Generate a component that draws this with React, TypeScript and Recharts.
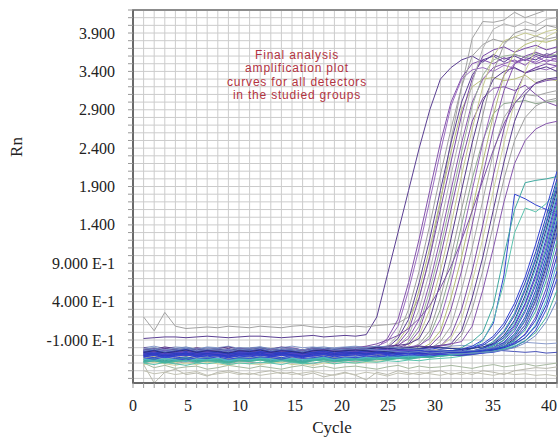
import * as React from 'react';
import {CartesianGrid, Line, LineChart, ReferenceArea, XAxis, YAxis} from 'recharts';

const cycles = [
	1, 2, 3, 4, 5, 6, 7, 8, 9, 10, 11, 12, 13, 14, 15, 16, 17, 18, 19, 20,
	21, 22, 23, 24, 25, 26, 27, 28, 29, 30, 31, 32, 33, 34, 35, 36, 37, 38, 39, 40,
];
const xLabelTicks = [0, 5, 10, 15, 20, 25, 30, 35, 40];
const yLabelTicks = [-0.1, 0.4, 0.9, 1.4, 1.9, 2.4, 2.9, 3.4, 3.9];
const noteLines = ['Final analysis', 'amplification plot', 'curves for all detectors', 'in the studied groups'];

// early risers (plateau 2.7 - 4.2)
const early01 = [-0.08, -0.07, -0.06, -0.06, -0.07, -0.06, -0.05, -0.06, -0.07, -0.06, -0.05, -0.05, -0.06, -0.07, -0.06, -0.05, -0.04, -0.06, -0.05, -0.04, -0.05, -0.03, 0.2, 0.75, 1.3, 1.85, 2.4, 2.9, 3.3, 3.45, 3.55, 3.6, 3.52, 3.62, 3.56, 3.6, 3.54, 3.62, 3.58, 3.6];
const early02 = [0.2, 0.02, 0.26, 0.08, 0.05, 0.06, 0.07, 0.06, 0.08, 0.07, 0.06, 0.08, 0.07, 0.06, 0.08, 0.09, 0.07, 0.06, 0.08, 0.07, 0.08, 0.07, 0.09, 0.1, 0.12, 0.2, 0.45, 1.0, 1.7, 2.5, 3.2, 3.83, 4.05, 4.04, 4.07, 4.17, 4.1, 4.15, 4.2, 4.2];
const early03 = [-0.26, -0.3, -0.27, -0.25, -0.28, -0.29, -0.26, -0.27, -0.3, -0.28, -0.27, -0.25, -0.28, -0.26, -0.27, -0.29, -0.26, -0.25, -0.27, -0.26, -0.25, -0.24, -0.2, -0.08, 0.17, 0.65, 1.22, 1.85, 2.47, 3.0, 3.32, 3.5, 3.55, 3.5, 3.58, 3.52, 3.56, 3.5, 3.55, 3.53];
const early04 = [-0.22, -0.25, -0.2, -0.24, -0.23, -0.21, -0.25, -0.22, -0.24, -0.2, -0.23, -0.21, -0.24, -0.22, -0.2, -0.23, -0.21, -0.24, -0.22, -0.2, -0.21, -0.2, -0.18, -0.12, 0.08, 0.55, 1.1, 1.72, 2.35, 2.95, 3.3, 3.42, 3.45, 3.4, 3.48, 3.44, 3.38, 3.45, 3.42, 3.47];
const early05 = [-0.32, -0.28, -0.3, -0.33, -0.29, -0.31, -0.3, -0.28, -0.32, -0.3, -0.29, -0.31, -0.3, -0.28, -0.3, -0.32, -0.29, -0.3, -0.28, -0.29, -0.28, -0.27, -0.25, -0.18, -0.04, 0.3, 0.8, 1.4, 2.05, 2.65, 3.2, 3.6, 3.75, 3.82, 3.78, 3.85, 3.8, 3.86, 3.82, 3.85];
const early06 = [-0.25, -0.27, -0.24, -0.26, -0.28, -0.25, -0.24, -0.27, -0.25, -0.26, -0.24, -0.26, -0.25, -0.27, -0.24, -0.25, -0.26, -0.23, -0.25, -0.24, -0.23, -0.25, -0.22, -0.2, -0.08, 0.17, 0.65, 1.22, 1.85, 2.47, 3.0, 3.35, 3.55, 3.6, 3.52, 3.62, 3.58, 3.55, 3.63, 3.6];
const early07 = [-0.35, -0.33, -0.36, -0.34, -0.32, -0.35, -0.33, -0.36, -0.34, -0.33, -0.35, -0.32, -0.34, -0.36, -0.33, -0.35, -0.34, -0.32, -0.33, -0.35, -0.33, -0.32, -0.3, -0.27, -0.12, 0.08, 0.55, 1.1, 1.72, 2.35, 2.9, 3.2, 3.3, 3.32, 3.28, 3.3, 3.35, 3.25, 3.3, 3.28];
const early08 = [-0.28, -0.26, -0.29, -0.27, -0.3, -0.28, -0.27, -0.29, -0.26, -0.28, -0.27, -0.29, -0.28, -0.26, -0.27, -0.28, -0.3, -0.27, -0.28, -0.26, -0.27, -0.25, -0.24, -0.21, -0.15, 0.02, 0.45, 0.98, 1.6, 2.22, 2.83, 3.3, 3.6, 3.68, 3.72, 3.65, 3.7, 3.74, 3.68, 3.72];
const early09 = [-0.3, -0.34, -0.31, -0.29, -0.33, -0.3, -0.32, -0.31, -0.29, -0.32, -0.3, -0.33, -0.31, -0.3, -0.32, -0.29, -0.31, -0.33, -0.3, -0.31, -0.3, -0.29, -0.28, -0.26, -0.18, -0.04, 0.3, 0.8, 1.4, 2.05, 2.65, 3.25, 3.7, 3.95, 4.02, 3.98, 4.05, 4.0, 4.08, 4.1];
const early10 = [-0.24, -0.21, -0.23, -0.25, -0.22, -0.24, -0.23, -0.21, -0.24, -0.22, -0.23, -0.25, -0.22, -0.24, -0.21, -0.23, -0.22, -0.24, -0.23, -0.21, -0.22, -0.21, -0.2, -0.19, -0.17, -0.08, 0.17, 0.65, 1.22, 1.85, 2.47, 3.0, 3.3, 3.45, 3.5, 3.55, 3.48, 3.6, 3.52, 3.58];
const early11 = [-0.33, -0.36, -0.34, -0.37, -0.35, -0.33, -0.36, -0.34, -0.35, -0.37, -0.34, -0.36, -0.35, -0.33, -0.36, -0.34, -0.37, -0.35, -0.34, -0.36, -0.35, -0.34, -0.33, -0.32, -0.3, -0.12, 0.08, 0.55, 1.1, 1.72, 2.35, 2.95, 3.35, 3.55, 3.6, 3.62, 3.58, 3.64, 3.6, 3.62];
const early12 = [-0.27, -0.25, -0.28, -0.26, -0.24, -0.27, -0.25, -0.26, -0.28, -0.25, -0.26, -0.24, -0.27, -0.25, -0.26, -0.24, -0.25, -0.27, -0.24, -0.26, -0.25, -0.24, -0.23, -0.22, -0.2, -0.15, 0.02, 0.45, 0.98, 1.6, 2.22, 2.75, 3.05, 3.18, 3.2, 3.15, 3.22, 3.1, 3.0, 2.95];
const early13 = [-0.38, -0.35, -0.37, -0.4, -0.36, -0.38, -0.35, -0.37, -0.39, -0.36, -0.37, -0.35, -0.38, -0.36, -0.39, -0.37, -0.35, -0.38, -0.36, -0.37, -0.36, -0.35, -0.34, -0.33, -0.3, -0.18, -0.04, 0.3, 0.8, 1.4, 2.05, 2.65, 3.2, 3.6, 3.8, 3.85, 3.9, 3.86, 3.92, 3.95];
const early14 = [-0.2, -0.22, -0.19, -0.21, -0.23, -0.2, -0.22, -0.21, -0.19, -0.22, -0.21, -0.2, -0.22, -0.19, -0.21, -0.23, -0.2, -0.21, -0.22, -0.2, -0.21, -0.19, -0.2, -0.18, -0.17, -0.15, -0.08, 0.17, 0.65, 1.22, 1.85, 2.47, 3.0, 3.3, 3.4, 3.45, 3.38, 3.42, 3.46, 3.4];
const early15 = [-0.31, -0.29, -0.32, -0.3, -0.28, -0.31, -0.3, -0.29, -0.32, -0.3, -0.29, -0.31, -0.3, -0.28, -0.31, -0.3, -0.29, -0.31, -0.3, -0.28, -0.3, -0.29, -0.28, -0.27, -0.25, -0.22, -0.15, 0.02, 0.45, 0.98, 1.6, 2.22, 2.83, 3.4, 3.75, 3.9, 3.95, 3.92, 4.0, 3.97];
const early16 = [-0.36, -0.38, -0.35, -0.37, -0.39, -0.36, -0.38, -0.37, -0.35, -0.38, -0.37, -0.36, -0.38, -0.35, -0.37, -0.39, -0.36, -0.38, -0.37, -0.36, -0.35, -0.36, -0.34, -0.33, -0.32, -0.3, -0.18, -0.04, 0.3, 0.8, 1.4, 2.0, 2.5, 2.85, 2.98, 3.0, 3.02, 2.98, 3.0, 3.02];
const early17 = [-0.23, -0.26, -0.24, -0.22, -0.25, -0.23, -0.26, -0.24, -0.22, -0.25, -0.24, -0.22, -0.25, -0.23, -0.24, -0.26, -0.23, -0.22, -0.24, -0.23, -0.22, -0.24, -0.21, -0.22, -0.2, -0.19, -0.17, -0.08, 0.17, 0.65, 1.22, 1.85, 2.47, 3.0, 3.35, 3.5, 3.56, 3.52, 3.6, 3.55];
const early18 = [-0.34, -0.31, -0.33, -0.35, -0.32, -0.34, -0.33, -0.31, -0.35, -0.33, -0.32, -0.34, -0.33, -0.35, -0.32, -0.33, -0.34, -0.31, -0.33, -0.32, -0.33, -0.32, -0.31, -0.3, -0.29, -0.27, -0.22, -0.15, 0.02, 0.45, 0.98, 1.6, 2.22, 2.83, 3.35, 3.65, 3.75, 3.8, 3.78, 3.82];
const early19 = [-0.29, -0.27, -0.3, -0.28, -0.26, -0.29, -0.28, -0.3, -0.27, -0.29, -0.28, -0.26, -0.29, -0.27, -0.28, -0.3, -0.27, -0.28, -0.26, -0.28, -0.27, -0.28, -0.26, -0.27, -0.25, -0.24, -0.22, -0.18, -0.04, 0.3, 0.8, 1.4, 2.05, 2.65, 3.15, 3.5, 3.6, 3.65, 3.6, 3.66];
const early20 = [-0.4, -0.37, -0.39, -0.41, -0.38, -0.4, -0.37, -0.39, -0.41, -0.38, -0.39, -0.4, -0.38, -0.37, -0.4, -0.39, -0.41, -0.38, -0.39, -0.37, -0.38, -0.37, -0.36, -0.35, -0.33, -0.31, -0.28, -0.22, -0.12, 0.08, 0.55, 1.1, 1.72, 2.35, 2.8, 3.0, 3.1, 3.08, 3.12, 3.15];
const early21 = [-0.26, -0.28, -0.25, -0.27, -0.29, -0.26, -0.28, -0.27, -0.25, -0.28, -0.27, -0.25, -0.28, -0.26, -0.27, -0.29, -0.26, -0.25, -0.27, -0.26, -0.25, -0.26, -0.24, -0.25, -0.23, -0.22, -0.21, -0.2, -0.18, -0.04, 0.3, 0.8, 1.4, 2.05, 2.65, 3.1, 3.38, 3.45, 3.5, 3.47];
const early22 = [-0.42, -0.39, -0.41, -0.43, -0.4, -0.42, -0.39, -0.41, -0.43, -0.4, -0.41, -0.42, -0.4, -0.39, -0.42, -0.41, -0.43, -0.4, -0.41, -0.39, -0.4, -0.39, -0.38, -0.36, -0.34, -0.32, -0.3, -0.25, -0.18, -0.08, 0.17, 0.65, 1.22, 1.85, 2.47, 3.0, 3.4, 3.7, 3.85, 3.92];
const early23 = [-0.22, -0.24, -0.21, -0.23, -0.25, -0.22, -0.24, -0.23, -0.21, -0.24, -0.23, -0.21, -0.24, -0.22, -0.23, -0.25, -0.22, -0.21, -0.23, -0.22, -0.21, -0.22, -0.2, -0.21, -0.19, -0.2, -0.18, -0.19, -0.17, -0.15, 0.02, 0.45, 0.98, 1.6, 2.22, 2.75, 3.1, 3.25, 3.3, 3.32];
const early24 = [-0.35, -0.32, -0.34, -0.36, -0.33, -0.35, -0.32, -0.34, -0.36, -0.33, -0.34, -0.35, -0.33, -0.32, -0.35, -0.34, -0.36, -0.33, -0.34, -0.32, -0.33, -0.32, -0.31, -0.3, -0.29, -0.28, -0.26, -0.24, -0.22, -0.18, -0.04, 0.3, 0.8, 1.4, 2.0, 2.5, 2.8, 2.95, 3.02, 3.05];
const early25 = [-0.3, -0.27, -0.29, -0.31, -0.28, -0.3, -0.27, -0.29, -0.31, -0.28, -0.29, -0.3, -0.28, -0.27, -0.3, -0.29, -0.31, -0.28, -0.29, -0.27, -0.28, -0.27, -0.26, -0.25, -0.24, -0.23, -0.22, -0.2, -0.18, -0.15, -0.12, 0.08, 0.55, 1.1, 1.7, 2.2, 2.5, 2.65, 2.72, 2.75];
const early26 = [-0.26, -0.24, -0.27, -0.25, -0.23, -0.26, -0.24, -0.25, -0.27, -0.24, -0.25, -0.23, -0.26, -0.24, -0.25, -0.23, -0.24, -0.22, -0.23, -0.21, -0.2, -0.18, -0.15, -0.1, -0.04, 0.05, 0.18, 0.35, 0.58, 0.86, 1.2, 1.58, 1.98, 2.38, 2.72, 2.98, 3.15, 3.24, 3.28, 3.3];

// late risers (reach 0.4 - 2.1 by cycle 40)
const late01 = [-0.28, -0.26, -0.29, -0.27, -0.25, -0.28, -0.27, -0.29, -0.26, -0.28, -0.27, -0.25, -0.28, -0.26, -0.27, -0.29, -0.26, -0.27, -0.25, -0.26, -0.27, -0.25, -0.26, -0.24, -0.25, -0.26, -0.24, -0.25, -0.23, -0.24, -0.22, -0.18, -0.1, 0.12, 0.75, 1.8, 1.74, 1.66, 1.6, 1.53];
const late02 = [-0.37, -0.35, -0.38, -0.36, -0.34, -0.37, -0.35, -0.36, -0.38, -0.35, -0.36, -0.34, -0.37, -0.35, -0.36, -0.38, -0.35, -0.34, -0.36, -0.35, -0.34, -0.35, -0.33, -0.34, -0.32, -0.33, -0.31, -0.3, -0.28, -0.25, -0.2, -0.12, 0.0, 0.35, 1.0, 1.6, 1.95, 1.98, 2.0, 2.03];
const late03 = [-0.39, -0.37, -0.4, -0.38, -0.36, -0.39, -0.37, -0.38, -0.4, -0.37, -0.38, -0.36, -0.39, -0.37, -0.38, -0.4, -0.37, -0.36, -0.38, -0.37, -0.36, -0.37, -0.35, -0.36, -0.34, -0.35, -0.33, -0.32, -0.31, -0.29, -0.26, -0.21, -0.11, 0.15, 0.65, 1.3, 1.62, 1.57, 1.68, 1.85];
const late04 = [-0.25, -0.23, -0.26, -0.24, -0.22, -0.25, -0.24, -0.26, -0.23, -0.25, -0.24, -0.22, -0.25, -0.23, -0.24, -0.26, -0.23, -0.24, -0.22, -0.23, -0.24, -0.22, -0.23, -0.21, -0.22, -0.23, -0.21, -0.22, -0.2, -0.21, -0.22, -0.2, -0.15, -0.05, 0.12, 0.38, 0.72, 1.15, 1.62, 2.1];
const late05 = [-0.28, -0.26, -0.27, -0.29, -0.26, -0.28, -0.27, -0.25, -0.28, -0.26, -0.27, -0.29, -0.26, -0.27, -0.25, -0.28, -0.26, -0.27, -0.25, -0.26, -0.27, -0.24, -0.26, -0.25, -0.24, -0.26, -0.24, -0.25, -0.23, -0.24, -0.24, -0.21, -0.17, -0.08, 0.08, 0.32, 0.65, 1.05, 1.52, 2.0];
const late06 = [-0.38, -0.36, -0.39, -0.37, -0.35, -0.38, -0.36, -0.37, -0.39, -0.36, -0.37, -0.35, -0.38, -0.36, -0.37, -0.39, -0.36, -0.35, -0.37, -0.36, -0.35, -0.36, -0.34, -0.35, -0.33, -0.34, -0.32, -0.33, -0.31, -0.3, -0.28, -0.25, -0.2, -0.12, 0.02, 0.25, 0.58, 0.98, 1.45, 1.95];
const late07 = [-0.26, -0.28, -0.25, -0.27, -0.29, -0.26, -0.27, -0.25, -0.28, -0.26, -0.27, -0.25, -0.26, -0.28, -0.25, -0.27, -0.26, -0.24, -0.27, -0.25, -0.26, -0.24, -0.25, -0.27, -0.24, -0.25, -0.23, -0.26, -0.24, -0.25, -0.27, -0.25, -0.21, -0.14, 0.0, 0.22, 0.55, 0.95, 1.42, 1.9];
const late08 = [-0.24, -0.22, -0.25, -0.23, -0.21, -0.24, -0.22, -0.23, -0.25, -0.22, -0.23, -0.21, -0.24, -0.22, -0.23, -0.25, -0.22, -0.21, -0.23, -0.22, -0.21, -0.22, -0.2, -0.21, -0.22, -0.2, -0.21, -0.19, -0.2, -0.21, -0.22, -0.21, -0.19, -0.15, -0.04, 0.16, 0.48, 0.88, 1.35, 1.85];
const late09 = [-0.35, -0.33, -0.36, -0.34, -0.32, -0.35, -0.33, -0.34, -0.36, -0.33, -0.34, -0.32, -0.35, -0.33, -0.34, -0.36, -0.33, -0.32, -0.34, -0.33, -0.32, -0.33, -0.31, -0.32, -0.3, -0.31, -0.3, -0.29, -0.3, -0.28, -0.28, -0.26, -0.23, -0.17, -0.06, 0.14, 0.44, 0.84, 1.3, 1.8];
const late10 = [-0.29, -0.27, -0.3, -0.28, -0.26, -0.29, -0.27, -0.28, -0.3, -0.27, -0.28, -0.26, -0.29, -0.27, -0.28, -0.3, -0.27, -0.26, -0.28, -0.27, -0.26, -0.27, -0.25, -0.26, -0.24, -0.25, -0.26, -0.24, -0.25, -0.24, -0.25, -0.24, -0.21, -0.16, -0.07, 0.1, 0.38, 0.76, 1.23, 1.75];
const late11 = [-0.24, -0.26, -0.23, -0.25, -0.27, -0.24, -0.26, -0.25, -0.23, -0.26, -0.25, -0.23, -0.26, -0.24, -0.25, -0.27, -0.24, -0.23, -0.25, -0.24, -0.23, -0.25, -0.24, -0.22, -0.24, -0.23, -0.25, -0.26, -0.27, -0.28, -0.3, -0.28, -0.25, -0.2, -0.1, 0.08, 0.36, 0.72, 1.18, 1.7];
const late12 = [-0.36, -0.34, -0.37, -0.35, -0.33, -0.36, -0.34, -0.35, -0.37, -0.34, -0.35, -0.33, -0.36, -0.34, -0.35, -0.37, -0.34, -0.33, -0.35, -0.34, -0.33, -0.34, -0.32, -0.33, -0.31, -0.32, -0.3, -0.31, -0.29, -0.28, -0.27, -0.26, -0.23, -0.18, -0.1, 0.05, 0.3, 0.66, 1.12, 1.65];
const late13 = [-0.3, -0.28, -0.31, -0.29, -0.27, -0.3, -0.28, -0.29, -0.31, -0.28, -0.29, -0.27, -0.3, -0.28, -0.29, -0.31, -0.28, -0.27, -0.29, -0.28, -0.27, -0.28, -0.26, -0.27, -0.28, -0.26, -0.27, -0.28, -0.26, -0.27, -0.29, -0.27, -0.25, -0.21, -0.13, 0.02, 0.27, 0.62, 1.07, 1.6];
const late14 = [-0.27, -0.29, -0.26, -0.28, -0.3, -0.27, -0.28, -0.26, -0.29, -0.27, -0.28, -0.26, -0.27, -0.29, -0.26, -0.28, -0.27, -0.25, -0.28, -0.26, -0.27, -0.25, -0.26, -0.28, -0.25, -0.26, -0.24, -0.27, -0.25, -0.26, -0.26, -0.25, -0.23, -0.2, -0.14, -0.02, 0.2, 0.55, 1.0, 1.55];
const late15 = [-0.4, -0.42, -0.39, -0.41, -0.43, -0.4, -0.41, -0.39, -0.42, -0.4, -0.41, -0.39, -0.4, -0.42, -0.39, -0.41, -0.4, -0.38, -0.41, -0.39, -0.4, -0.38, -0.39, -0.37, -0.38, -0.36, -0.37, -0.35, -0.34, -0.33, -0.31, -0.29, -0.27, -0.23, -0.15, -0.03, 0.17, 0.5, 0.95, 1.5];
const late16 = [-0.31, -0.29, -0.32, -0.3, -0.28, -0.31, -0.29, -0.3, -0.32, -0.29, -0.3, -0.28, -0.31, -0.29, -0.3, -0.32, -0.29, -0.28, -0.3, -0.29, -0.28, -0.29, -0.27, -0.28, -0.29, -0.27, -0.28, -0.29, -0.27, -0.28, -0.28, -0.27, -0.25, -0.22, -0.16, -0.05, 0.15, 0.47, 0.92, 1.45];
const late17 = [-0.26, -0.24, -0.27, -0.25, -0.23, -0.26, -0.24, -0.25, -0.27, -0.24, -0.25, -0.23, -0.26, -0.24, -0.25, -0.27, -0.24, -0.23, -0.25, -0.24, -0.23, -0.24, -0.26, -0.25, -0.27, -0.26, -0.28, -0.27, -0.29, -0.3, -0.3, -0.28, -0.26, -0.23, -0.18, -0.08, 0.1, 0.42, 0.86, 1.4];
const late18 = [-0.22, -0.2, -0.23, -0.21, -0.19, -0.22, -0.2, -0.21, -0.23, -0.2, -0.21, -0.19, -0.22, -0.2, -0.21, -0.23, -0.2, -0.19, -0.21, -0.2, -0.19, -0.2, -0.18, -0.19, -0.2, -0.21, -0.22, -0.23, -0.24, -0.25, -0.25, -0.24, -0.22, -0.2, -0.15, -0.07, 0.1, 0.4, 0.82, 1.35];
const late19 = [-0.31, -0.33, -0.3, -0.32, -0.34, -0.31, -0.32, -0.3, -0.33, -0.31, -0.32, -0.3, -0.31, -0.33, -0.3, -0.32, -0.31, -0.29, -0.32, -0.3, -0.31, -0.29, -0.3, -0.32, -0.29, -0.3, -0.28, -0.31, -0.29, -0.3, -0.29, -0.28, -0.26, -0.24, -0.19, -0.1, 0.06, 0.34, 0.76, 1.3];
const late20 = [-0.38, -0.36, -0.39, -0.37, -0.35, -0.38, -0.36, -0.37, -0.39, -0.36, -0.37, -0.35, -0.38, -0.36, -0.37, -0.39, -0.36, -0.35, -0.37, -0.36, -0.35, -0.36, -0.34, -0.35, -0.33, -0.34, -0.32, -0.31, -0.3, -0.29, -0.28, -0.27, -0.25, -0.22, -0.18, -0.11, 0.03, 0.28, 0.68, 1.2];
const late21 = [-0.28, -0.3, -0.27, -0.29, -0.31, -0.28, -0.29, -0.27, -0.3, -0.28, -0.29, -0.27, -0.28, -0.3, -0.27, -0.29, -0.28, -0.26, -0.29, -0.27, -0.28, -0.26, -0.27, -0.29, -0.26, -0.27, -0.28, -0.29, -0.28, -0.3, -0.3, -0.29, -0.27, -0.25, -0.21, -0.14, -0.02, 0.2, 0.58, 1.1];
const late22 = [-0.32, -0.3, -0.33, -0.31, -0.29, -0.32, -0.3, -0.31, -0.33, -0.3, -0.31, -0.29, -0.32, -0.3, -0.31, -0.33, -0.3, -0.29, -0.31, -0.3, -0.29, -0.3, -0.28, -0.29, -0.27, -0.28, -0.27, -0.26, -0.27, -0.26, -0.26, -0.25, -0.24, -0.22, -0.19, -0.13, -0.03, 0.16, 0.5, 1.0];
const late23 = [-0.35, -0.37, -0.34, -0.36, -0.38, -0.35, -0.36, -0.34, -0.37, -0.35, -0.36, -0.34, -0.35, -0.37, -0.34, -0.36, -0.35, -0.33, -0.36, -0.34, -0.35, -0.33, -0.34, -0.32, -0.33, -0.31, -0.32, -0.3, -0.31, -0.29, -0.28, -0.27, -0.26, -0.24, -0.21, -0.16, -0.07, 0.1, 0.42, 0.9];
const late24 = [-0.3, -0.28, -0.31, -0.29, -0.27, -0.3, -0.28, -0.29, -0.31, -0.28, -0.29, -0.27, -0.3, -0.28, -0.29, -0.31, -0.28, -0.27, -0.29, -0.28, -0.27, -0.28, -0.26, -0.27, -0.28, -0.26, -0.27, -0.28, -0.26, -0.27, -0.27, -0.26, -0.25, -0.23, -0.2, -0.15, -0.07, 0.08, 0.36, 0.8];
const late25 = [-0.33, -0.35, -0.32, -0.34, -0.36, -0.33, -0.34, -0.32, -0.35, -0.33, -0.34, -0.32, -0.33, -0.35, -0.32, -0.34, -0.33, -0.31, -0.34, -0.32, -0.33, -0.31, -0.32, -0.3, -0.31, -0.29, -0.3, -0.31, -0.29, -0.3, -0.29, -0.28, -0.27, -0.26, -0.23, -0.19, -0.11, 0.03, 0.3, 0.7];
const late26 = [-0.39, -0.37, -0.4, -0.38, -0.36, -0.39, -0.37, -0.38, -0.4, -0.37, -0.38, -0.36, -0.39, -0.37, -0.38, -0.4, -0.37, -0.36, -0.38, -0.37, -0.36, -0.37, -0.35, -0.36, -0.34, -0.35, -0.33, -0.32, -0.31, -0.3, -0.28, -0.27, -0.26, -0.25, -0.22, -0.18, -0.11, 0.0, 0.2, 0.55];
const late27 = [-0.24, -0.22, -0.25, -0.23, -0.21, -0.24, -0.22, -0.23, -0.25, -0.22, -0.23, -0.21, -0.24, -0.22, -0.23, -0.25, -0.22, -0.21, -0.23, -0.22, -0.21, -0.22, -0.23, -0.24, -0.25, -0.26, -0.25, -0.27, -0.26, -0.28, -0.28, -0.27, -0.26, -0.25, -0.23, -0.2, -0.14, -0.04, 0.14, 0.42];

// no amplification
const flat01 = [-0.42, -0.66, -0.52, -0.48, -0.55, -0.53, -0.57, -0.52, -0.5, -0.53, -0.55, -0.52, -0.5, -0.54, -0.52, -0.56, -0.53, -0.58, -0.55, -0.52, -0.56, -0.62, -0.52, -0.55, -0.5, -0.53, -0.55, -0.52, -0.5, -0.55, -0.52, -0.55, -0.5, -0.52, -0.55, -0.5, -0.48, -0.46, -0.47, -0.45];
const flat02 = [-0.5, -0.54, -0.52, -0.55, -0.53, -0.51, -0.56, -0.54, -0.52, -0.55, -0.53, -0.56, -0.54, -0.52, -0.55, -0.53, -0.51, -0.54, -0.56, -0.53, -0.55, -0.52, -0.54, -0.57, -0.53, -0.55, -0.52, -0.54, -0.56, -0.53, -0.55, -0.52, -0.54, -0.56, -0.53, -0.55, -0.54, -0.56, -0.55, -0.57];
const flat03 = [-0.4, -0.46, -0.43, -0.47, -0.45, -0.44, -0.48, -0.46, -0.43, -0.45, -0.47, -0.44, -0.46, -0.48, -0.45, -0.43, -0.46, -0.44, -0.47, -0.45, -0.44, -0.46, -0.48, -0.45, -0.43, -0.47, -0.44, -0.46, -0.45, -0.43, -0.45, -0.47, -0.44, -0.42, -0.45, -0.43, -0.41, -0.44, -0.42, -0.4];
const flat04 = [-0.2, -0.18, -0.21, -0.19, -0.2, -0.22, -0.19, -0.2, -0.18, -0.21, -0.2, -0.19, -0.21, -0.2, -0.18, -0.2, -0.19, -0.21, -0.2, -0.19, -0.18, -0.2, -0.19, -0.18, -0.2, -0.19, -0.18, -0.19, -0.17, -0.18, -0.17, -0.18, -0.16, -0.15, -0.14, -0.12, -0.13, -0.14, -0.15, -0.14];
const flat05 = [-0.3, -0.28, -0.31, -0.29, -0.3, -0.28, -0.3, -0.31, -0.29, -0.28, -0.3, -0.29, -0.31, -0.3, -0.28, -0.29, -0.3, -0.28, -0.29, -0.27, -0.28, -0.27, -0.29, -0.28, -0.26, -0.27, -0.28, -0.26, -0.27, -0.25, -0.26, -0.25, -0.24, -0.23, -0.24, -0.25, -0.26, -0.25, -0.27, -0.26];

const curves = [
	{key: 'flat01', values: flat01, color: '#b9b9ad'},
	{key: 'flat02', values: flat02, color: '#c2c2b4'},
	{key: 'flat03', values: flat03, color: '#a6b89f'},
	{key: 'flat04', values: flat04, color: '#8a9ccc'},
	{key: 'flat05', values: flat05, color: '#4852b8'},
	{key: 'early01', values: early01, color: '#5b3f93'},
	{key: 'early02', values: early02, color: '#a3a3a3'},
	{key: 'early03', values: early03, color: '#8452ad'},
	{key: 'early04', values: early04, color: '#9b6cc0'},
	{key: 'early05', values: early05, color: '#a0a0a0'},
	{key: 'early06', values: early06, color: '#5d3f95'},
	{key: 'early07', values: early07, color: '#b9bd7c'},
	{key: 'early08', values: early08, color: '#7a4aa8'},
	{key: 'early09', values: early09, color: '#b3b3b3'},
	{key: 'early10', values: early10, color: '#8a55b0'},
	{key: 'early11', values: early11, color: '#9db39a'},
	{key: 'early12', values: early12, color: '#7e4ea6'},
	{key: 'early13', values: early13, color: '#c6c98e'},
	{key: 'early14', values: early14, color: '#56398a'},
	{key: 'early15', values: early15, color: '#9a9a9a'},
	{key: 'early16', values: early16, color: '#8fa890'},
	{key: 'early17', values: early17, color: '#9462bb'},
	{key: 'early18', values: early18, color: '#b7bd76'},
	{key: 'early19', values: early19, color: '#8351aa'},
	{key: 'early20', values: early20, color: '#a5a5a5'},
	{key: 'early21', values: early21, color: '#7b4ba5'},
	{key: 'early22', values: early22, color: '#cfd39c'},
	{key: 'early23', values: early23, color: '#5a3c8f'},
	{key: 'early24', values: early24, color: '#9e9e9e'},
	{key: 'early25', values: early25, color: '#8656ad'},
	{key: 'early26', values: early26, color: '#7d52a8'},
	{key: 'late01', values: late01, color: '#3344d0'},
	{key: 'late02', values: late02, color: '#3fa9a0'},
	{key: 'late03', values: late03, color: '#5cc4ae'},
	{key: 'late04', values: late04, color: '#2f40d2'},
	{key: 'late05', values: late05, color: '#2a3bbd'},
	{key: 'late06', values: late06, color: '#3aa39e'},
	{key: 'late07', values: late07, color: '#3445cc'},
	{key: 'late08', values: late08, color: '#283585'},
	{key: 'late09', values: late09, color: '#49b6c6'},
	{key: 'late10', values: late10, color: '#3041c8'},
	{key: 'late11', values: late11, color: '#5b49c6'},
	{key: 'late12', values: late12, color: '#3aa79a'},
	{key: 'late13', values: late13, color: '#3646d4'},
	{key: 'late14', values: late14, color: '#2b3bbf'},
	{key: 'late15', values: late15, color: '#57c3ae'},
	{key: 'late16', values: late16, color: '#3344cc'},
	{key: 'late17', values: late17, color: '#27307e'},
	{key: 'late18', values: late18, color: '#6f8ac0'},
	{key: 'late19', values: late19, color: '#3242cc'},
	{key: 'late20', values: late20, color: '#3fb0a2'},
	{key: 'late21', values: late21, color: '#5546c2'},
	{key: 'late22', values: late22, color: '#2e3fcf'},
	{key: 'late23', values: late23, color: '#4cb9c9'},
	{key: 'late24', values: late24, color: '#2b3bbf'},
	{key: 'late25', values: late25, color: '#3848d6'},
	{key: 'late26', values: late26, color: '#45b39c'},
	{key: 'late27', values: late27, color: '#7088c4'},
];

const rows = cycles.map((cycle, i) => {
	const row: Record<string, number> = {cycle};
	curves.forEach((c) => {
		row[c.key] = c.values[i];
	});
	return row;
});

const Y_MIN = -0.66;
const Y_MAX = 4.2;
const gridY = Array.from({length: 49}, (_, i) => Math.round(-6 + i) / 10);
const gridX = Array.from({length: 41}, (_, i) => i);
const labelledY = new Set(yLabelTicks.map((v) => Math.round(v * 10)));
const labelledX = new Set(xLabelTicks);
// the printed cycle labels sit a little off their grid lines
const xLabelNudge: Record<number, number> = {0: 0, 5: 2, 10: 1, 15: 3, 20: -3, 25: -10, 30: -16, 35: -11, 40: -8};

const serif = '"Liberation Serif", "Times New Roman", serif';
const axisColor = '#6a6a6a';

function formatRn(v: number) {
	const tenths = Math.round(v * 10);
	if (tenths >= 10) return (tenths / 10).toFixed(3);
	return tenths.toFixed(3) + ' E-1';
}

function YTick({x, y, payload}: any) {
	if (!labelledY.has(Math.round(payload.value * 10))) return <g />;
	return (
		<text x={x} y={y} textAnchor="end" dominantBaseline="central" fontFamily={serif} fontSize={16} fill="#222">
			{formatRn(payload.value)}
		</text>
	);
}

function XTick({x, y, payload}: any) {
	if (!labelledX.has(payload.value)) return <g />;
	return (
		<text x={x + (xLabelNudge[payload.value] || 0)} y={y} textAnchor="middle" dominantBaseline="central" fontFamily={serif} fontSize={16} fill="#222">
			{payload.value}
		</text>
	);
}

export default function App() {
	return (
		<div style={{position: 'absolute', left: 0, top: 0, width: 559, height: 438, background: '#fff'}}>
			<LineChart width={559} height={438} data={rows} margin={{top: 10, right: 2, bottom: 25, left: 8}}>
				<CartesianGrid stroke="#cccccc" strokeWidth={1} horizontalValues={gridY} verticalValues={gridX} />
				<XAxis
					dataKey="cycle"
					type="number"
					domain={[0, 40]}
					ticks={gridX}
					interval={0}
					height={30}
					tick={<XTick />}
					tickSize={5}
					tickMargin={17}
					tickLine={{stroke: '#999'}}
					axisLine={{stroke: axisColor, strokeWidth: 2}}
					allowDataOverflow
				/>
				<YAxis
					type="number"
					domain={[Y_MIN, Y_MAX]}
					ticks={gridY}
					interval={0}
					width={125}
					tick={<YTick />}
					tickSize={5}
					tickMargin={13}
					tickLine={{stroke: '#999'}}
					axisLine={{stroke: axisColor, strokeWidth: 2}}
					allowDataOverflow
				/>
				<ReferenceArea x1={0} x2={40} y1={Y_MIN} y2={Y_MAX} fill="none" stroke="#8c8c8c" strokeWidth={2} />
				{curves.map((c) => (
					<Line
						key={c.key}
						dataKey={c.key}
						type="linear"
						stroke={c.color}
						strokeWidth={1}
						dot={false}
						activeDot={false}
						isAnimationActive={false}
					/>
				))}
			</LineChart>
			<div style={{position: 'absolute', left: 2, top: 137, width: 30, height: 20, lineHeight: '20px', textAlign: 'center', transform: 'rotate(-90deg)', fontFamily: serif, fontSize: 17, color: '#222'}}>
				Rn
			</div>
			<div style={{position: 'absolute', left: 282, top: 418, width: 100, height: 20, lineHeight: '20px', textAlign: 'center', fontFamily: serif, fontSize: 17, color: '#222'}}>
				Cycle
			</div>
			<div style={{position: 'absolute', left: 197, top: 49, width: 200, textAlign: 'center', fontFamily: '"Liberation Sans", Arial, sans-serif', fontSize: 12, letterSpacing: 0.8, lineHeight: '13.3px', color: '#b3343f'}}>
				{noteLines.map((line) => (
					<div key={line} style={{height: 13.3}}>{line}</div>
				))}
			</div>
		</div>
	);
}
